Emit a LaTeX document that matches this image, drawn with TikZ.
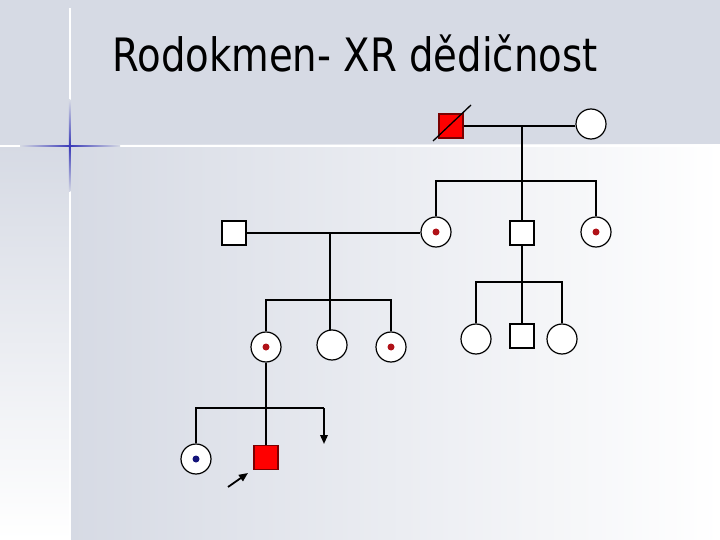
\documentclass[tikz,border=0pt]{standalone}
\usepackage{fontspec}
\usepackage{tikz}
\usetikzlibrary{arrows.meta,calc}
\newfontfamily\titlefont[FakeStretch=0.84]{DejaVu Sans}
\definecolor{pgband}{HTML}{D6DAE4}
\definecolor{pgred}{HTML}{FF0000}
\definecolor{pgdark}{HTML}{7A0000}
\definecolor{pgdot}{HTML}{B01218}
\definecolor{pgblue}{HTML}{14147A}
\definecolor{pgspark}{HTML}{3A3AB8}
\definecolor{pgfade}{HTML}{A8ACBC}
\tikzset{
  fem/.style   = {circle, draw=black, line width=1.2pt, fill=white,
                  minimum size=30pt, inner sep=0pt},
  mal/.style   = {rectangle, draw=black, line width=1.2pt, fill=white,
                  minimum size=24pt, inner sep=0pt},
  aff/.style   = {mal, draw=pgdark, fill=pgred},
  ln/.style    = {draw=black, line width=1.3pt},
  ptr/.style   = {-{Triangle[length=9pt,width=7.5pt]}, draw=black, line width=1.8pt},
  ttl/.style   = {font=\titlefont\fontsize{46}{50}\selectfont, anchor=base west,
                  inner sep=0pt},
}
\begin{document}
\begin{tikzpicture}[x=1pt,y=-1pt]
  % background
  \useasboundingbox (0,0) rectangle (720,540);
  \fill[pgband] (0,0) rectangle (720,145);
  \shade[top color=pgband, bottom color=white] (0,145) rectangle (69,540);
  \shade[left color=pgband, right color=white] (70,145) rectangle (720,540);
  \draw[white, line width=2.5pt] (0,146) -- (720,146);
  \draw[white, line width=2pt] (69.5,8) -- (69.5,540);
  \shade[left color=pgband, middle color=pgfade, right color=pgspark] (20,145.3) rectangle (70,146.6);
  \shade[left color=pgspark, middle color=pgfade, right color=pgband] (70,145.3) rectangle (120,146.6);
  \shade[top color=pgband, middle color=pgfade, bottom color=pgspark] (68.9,100) rectangle (70.3,145.5);
  \shade[top color=pgspark, middle color=pgfade, bottom color=pgband] (68.9,146.5) rectangle (70.3,192);

  \node[ttl] (title) at (112,72) {Rodokmen- XR dědičnost};

  % generation I
  \node[aff] (gm) at (451,126) {};
  \node[fem] (gf) at (591,124) {};
  \draw[ln] (gm.center) ++(-18,15) -- ++(38,-36);
  \coordinate (s1) at (522,181);
  \draw[ln] (gm.east) -- (gm.east -| gf.west);
  \draw[ln] (522,126) -- (s1);

  % generation II
  \node[mal] (sp) at (234,233) {};
  \node[fem] (c1) at (436,232) {};
  \node[mal] (c2) at (522,233) {};
  \node[fem] (c3) at (596,232) {};
  \fill[pgdot] (c1) circle (3.5pt);
  \fill[pgdot] (c3) circle (3.5pt);
  \draw[ln] (c1.north) |- (s1) -| (c3.north);
  \draw[ln] (s1) -- (c2.north);
  \draw[ln] (sp.east) -- (sp.east -| c1.west);
  \coordinate (s2) at (330,300);
  \draw[ln] (330,233) -- (s2);

  % generation III, left
  \node[fem] (d1) at (266,347) {};
  \node[fem] (d2) at (332,345) {};
  \node[fem] (d3) at (391,347) {};
  \fill[pgdot] (d1) circle (3.5pt);
  \fill[pgdot] (d3) circle (3.5pt);
  \draw[ln] (d1.north) |- (s2) -| (d3.north);
  \draw[ln] (s2) -- (330,330);

  % generation III, right
  \coordinate (s3) at (522,282);
  \node[fem] (e1) at (476,339) {};
  \node[mal] (e2) at (522,336) {};
  \node[fem] (e3) at (562,339) {};
  \draw[ln] (c2.south) -- (s3);
  \draw[ln] (e1.north) |- (s3) -| (e3.north);
  \draw[ln] (s3) -- (e2.north);

  % generation IV
  \coordinate (s4) at (266,408);
  \node[fem] (f1) at (196,459) {};
  \node[aff] (f2) at (266,457.5) {};
  \coordinate (f3a) at (324,408);
  \coordinate (f3) at (324,444);
  \fill[pgblue] (f1) circle (3.5pt);
  \draw[ln] (d1.south) -- (f2.north);
  \draw[ln] (f1.north) |- (s4) -- (f3a);
  \draw[ptr] (f3a) -- (f3);
  \coordinate (pa) at (228,487);
  \coordinate (pb) at (248,473);
  \draw[ptr] (pa) -- (pb);
\end{tikzpicture}
\end{document}
